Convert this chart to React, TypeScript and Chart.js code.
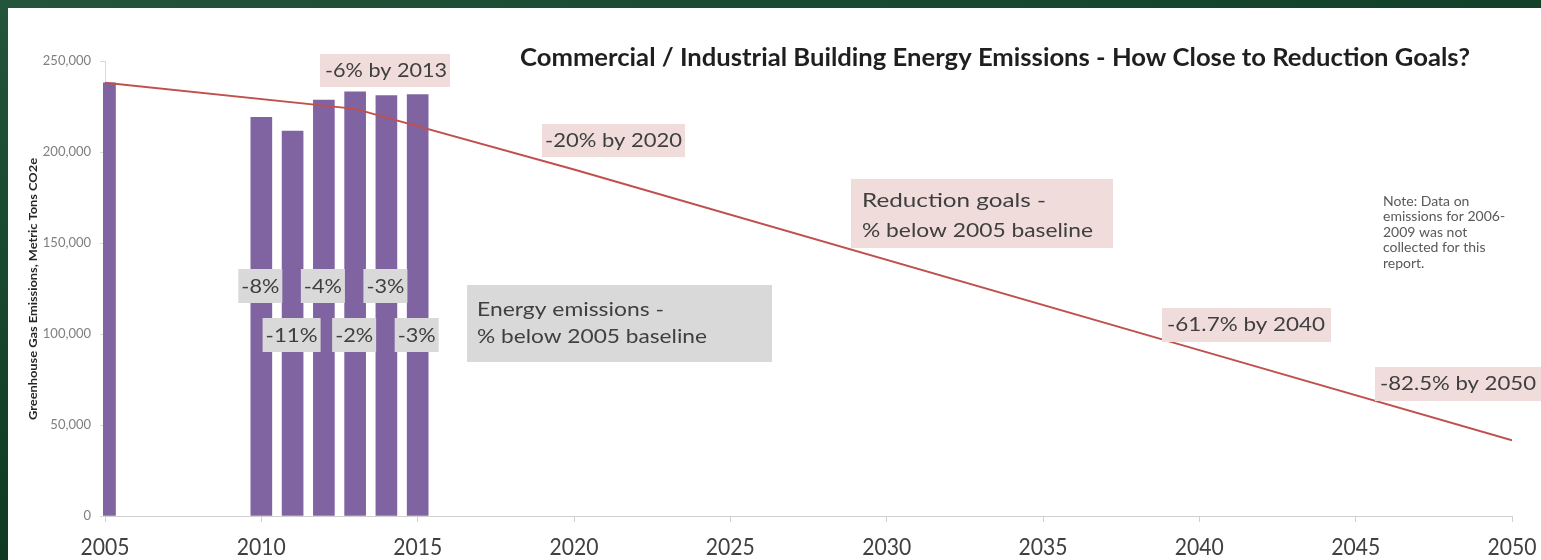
import React, { useEffect, useRef } from 'react';
import { Chart, registerables } from 'chart.js';

Chart.register(...registerables);

// ---- data ----
const emissionYears = [2005, 2010, 2011, 2012, 2013, 2014, 2015];
const emissionValues = [238000, 219000, 211500, 228500, 233000, 231000, 231500];
const emissionPctLabels = ['', '-8%', '-11%', '-4%', '-2%', '-3%', '-3%'];

const goalYears = [2005, 2013, 2020, 2040, 2050];
const goalValues = [238000, 223700, 190400, 91150, 41650];

const goalLabels = ['-6% by 2013', '-20% by 2020', '-61.7% by 2040', '-82.5% by 2050'];
const goalLegendLines = ['Reduction goals -', '% below 2005 baseline'];
const emissionLegendLines = ['Energy emissions -', '% below 2005 baseline'];
const noteLines = ['Note: Data on', 'emissions for 2006-', '2009 was not', 'collected for this', 'report.'];

const chartTitle = 'Commercial / Industrial Building Energy Emissions - How Close to Reduction Goals?';
const yAxisTitle = 'Greenhouse Gas Emissions, Metric Tons CO2e';

const xMin = 2005;
const xMax = 2050;
const xStep = 5;
const yMin = 0;
const yMax = 250000;
const yStep = 50000;

// ---- styles / layout ----
const FONT = 'Lato, "Open Sans", sans-serif';
const BAR_COLOR = '#8064A2';
const LINE_COLOR = '#C0504D';
const PINK = '#F0DCDB';
const GRAY = '#D9D9D9';
const TEXT = '#3F3F3F';

type TextOpts = {
  size: number;
  weight?: string;
  color?: string;
  align?: 'left' | 'center' | 'right';
  width?: number;
};

function drawText(ctx: CanvasRenderingContext2D, text: string, x: number, y: number, o: TextOpts) {
  ctx.save();
  ctx.font = `${o.weight || 'normal'} ${o.size}px ${FONT}`;
  ctx.fillStyle = o.color || TEXT;
  ctx.textBaseline = 'middle';
  ctx.textAlign = 'left';
  const w = ctx.measureText(text).width;
  const sx = o.width ? o.width / w : 1;
  const align = o.align || 'left';
  const left = align === 'left' ? x : align === 'center' ? x - (w * sx) / 2 : x - w * sx;
  ctx.translate(left, y);
  ctx.scale(sx, 1);
  ctx.fillText(text, 0, 0);
  ctx.restore();
  return w * sx;
}

// boxes: [x, y, w, h], text left, line centres, line widths
const goalBoxes = [
  { lines: [goalLabels[0]], box: [320, 54, 130, 33], tx: 325, ys: [71], ws: [122] },
  { lines: [goalLabels[1]], box: [542, 124, 143, 33], tx: 545, ys: [141], ws: [137] },
  { lines: goalLegendLines, box: [851, 179, 262, 69], tx: 862, ys: [201, 231], ws: [184, 231] },
  { lines: [goalLabels[2]], box: [1162, 308, 169, 34], tx: 1167, ys: [325], ws: [158] },
  { lines: [goalLabels[3]], box: [1375, 367, 166, 34], tx: 1380, ys: [384], ws: [156] },
];

const emissionBox = { lines: emissionLegendLines, box: [467, 285, 305, 77], tx: 477, ys: [310, 337], ws: [187, 230] };

const noteLayout = { x: 1383, y0: 201, dy: 15.5 };

const decorPlugin = {
  id: 'decor',
  beforeDraw(chart: any) {
    const ctx: CanvasRenderingContext2D = chart.ctx;
    const { width, height } = chart;
    ctx.save();
    ctx.fillStyle = '#ffffff';
    ctx.fillRect(0, 0, width, height);
    const g = ctx.createLinearGradient(0, 0, 0, height);
    g.addColorStop(0, '#22553a');
    g.addColorStop(1, '#0d3a20');
    ctx.fillStyle = g;
    ctx.fillRect(0, 0, 8, height);
    const g2 = ctx.createLinearGradient(0, 0, width, 0);
    g2.addColorStop(0, '#22553a');
    g2.addColorStop(1, '#12402a');
    ctx.fillStyle = g2;
    ctx.fillRect(0, 0, width, 8);
    ctx.restore();
  },
  afterDatasetsDraw(chart: any) {
    const ctx: CanvasRenderingContext2D = chart.ctx;
    const xs = chart.scales.x;
    const ys = chart.scales.y;

    const boxes = [...goalBoxes.map((b) => ({ ...b, fill: PINK })), { ...emissionBox, fill: GRAY }];
    boxes.forEach((b) => {
      ctx.save();
      ctx.fillStyle = b.fill;
      ctx.fillRect(b.box[0], b.box[1], b.box[2], b.box[3]);
      ctx.restore();
      b.lines.forEach((t, i) => drawText(ctx, t, b.tx, b.ys[i], { size: 20, width: b.ws[i] }));
    });

    let k = 0;
    emissionYears.forEach((yr, i) => {
      const lbl = emissionPctLabels[i];
      if (!lbl) return;
      const cx = xs.getPixelForValue(yr) - 1;
      const cy = k % 2 === 0 ? 286 : 335;
      k++;
      const tw = lbl.length > 3 ? 52 : 38;
      ctx.save();
      ctx.fillStyle = GRAY;
      ctx.fillRect(cx - tw / 2 - 3, cy - 17, tw + 6, 34);
      ctx.restore();
      drawText(ctx, lbl, cx, cy + 1, { size: 20, width: tw, align: 'center' });
    });

    noteLines.forEach((t, i) =>
      drawText(ctx, t, noteLayout.x, noteLayout.y0 + i * noteLayout.dy, { size: 14, color: '#595959' })
    );

    ys.ticks.forEach((t: any) => {
      drawText(ctx, Number(t.value).toLocaleString('en-US'), 91, ys.getPixelForValue(t.value), {
        size: 13,
        color: '#7F7F7F',
        align: 'right',
      });
    });

    xs.ticks.forEach((t: any) => {
      drawText(ctx, String(t.value), xs.getPixelForValue(t.value), 548, {
        size: 23,
        color: '#404040',
        align: 'center',
        width: 49,
      });
    });

    ctx.save();
    ctx.translate(33, 289);
    ctx.rotate(-Math.PI / 2);
    drawText(ctx, yAxisTitle, 0, 0, { size: 12, weight: 'bold', color: '#262626', align: 'center', width: 262 });
    ctx.restore();

    drawText(ctx, chartTitle, 520, 58, { size: 24, weight: 'bold', color: '#1F1F1F', width: 950 });
  },
};

export default function App() {
  const ref = useRef<HTMLCanvasElement | null>(null);

  useEffect(() => {
    document.body.style.margin = '0';
    const canvas = ref.current;
    if (!canvas) return;
    const chart = new Chart(canvas, {
      data: {
        datasets: [
          {
            type: 'line',
            label: 'Reduction goals',
            data: goalYears.map((x, i) => ({ x, y: goalValues[i] })),
            borderColor: LINE_COLOR,
            borderWidth: 2,
            pointRadius: 0,
            tension: 0,
            fill: false,
            order: 0,
          },
          {
            type: 'bar',
            label: 'Energy emissions',
            data: emissionYears.map((x, i) => ({ x, y: emissionValues[i] })),
            backgroundColor: BAR_COLOR,
            borderWidth: 0,
            barThickness: 21,
            clip: 2,
            order: 1,
          },
        ],
      } as any,
      options: {
        animation: false,
        responsive: false,
        devicePixelRatio: 1,
        events: [],
        layout: { padding: { top: 61, right: 29, left: 0, bottom: 0 } },
        plugins: {
          legend: { display: false },
          tooltip: { enabled: false },
          title: { display: false },
        },
        scales: {
          x: {
            type: 'linear',
            min: xMin,
            max: xMax,
            offset: false,
            ticks: { stepSize: xStep, display: false },
            grid: { drawOnChartArea: false, tickLength: 6, color: '#D0D0D0', offset: false },
            border: { color: '#D0D0D0', width: 1 },
            afterFit: (s: any) => {
              s.height = 44;
            },
          },
          y: {
            type: 'linear',
            min: yMin,
            max: yMax,
            ticks: { stepSize: yStep, display: false },
            grid: { drawOnChartArea: false, tickLength: 5, color: '#D9D9D9' },
            border: { color: '#D9D9D9', width: 1 },
            afterFit: (s: any) => {
              s.width = 105;
            },
          },
        },
      } as any,
      plugins: [decorPlugin],
    });
    return () => chart.destroy();
  }, []);

  return (
    <div style={{ width: 1541, height: 560, position: 'relative' }}>
      <canvas ref={ref} width={1541} height={560} style={{ display: 'block', width: 1541, height: 560 }} />
    </div>
  );
}
